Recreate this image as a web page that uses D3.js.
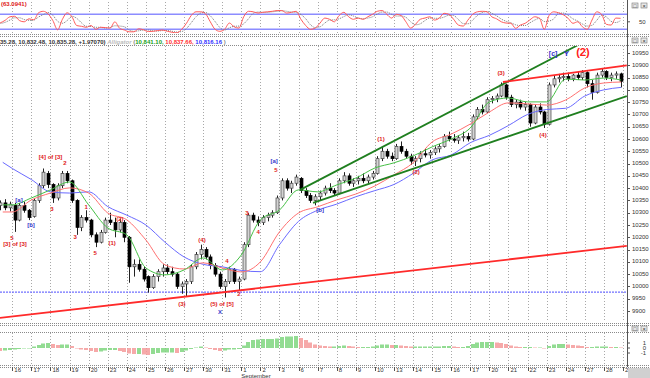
<!DOCTYPE html>
<html>
<head>
<meta charset="utf-8">
<script src="https://cdn.jsdelivr.net/npm/d3@7"></script>
<style>
  body { margin: 0; background: #fff; }
  text { font-family: "Liberation Sans", Arial, sans-serif; }
</style>
</head>
<body>
<svg id="screen"></svg>
<script>
//
// Dow hourly chart: stochastic on top, candles + alligator + wave counts,
// histogram at the bottom
//

// ---------------- data ----------------

let dayLabels = ["16","17","18","19","20","23","24","25","26","27","30","31","1","2","3",
                 "6","7","8","9","10","13","14","15","16","17","20","21","22","23","24",
                 "27","28","29"]

// 4 bars a day, first 4 belong to the day before "16"
let opens = [10340,10330,10340,10320, 10330,10270,10330,10310, 10285,10350,10410,10460,
  10415,10360,10410,10460, 10430,10350,10240,10280, 10270,10210,10180,10220,
  10270,10260,10230,10260, 10200,10080,10090,10070, 10040,9995,10040,10060,
  10075,10060,10050,10000, 10010,10020,10080,10130, 10150,10120,10085,10050,
  10000,10020,10070,10020, 10030,10170,10290,10270, 10260,10280,10290,10300,
  10360,10430,10400,10420, 10440,10390,10370,10350, 10365,10380,10400,10390,
  10380,10430,10450,10420, 10430,10440,10430,10445, 10460,10520,10550,10530,
  10520,10570,10550,10530, 10510,10520,10540,10535, 10545,10560,10570,10610,
  10600,10595,10605,10610, 10600,10690,10720,10710, 10760,10765,10775,10820,
  10770,10740,10750,10730, 10740,10665,10730,10710, 10660,10820,10845,10850,
  10855,10845,10860,10850, 10870,10825,10790,10860, 10875,10850,10860,10865]
let highs = [10360,10350,10355,10345, 10340,10340,10345,10315, 10360,10420,10480,10470,
  10420,10420,10470,10470, 10435,10355,10290,10310, 10275,10220,10230,10280,
  10300,10280,10275,10270, 10205,10110,10110,10080, 10045,10050,10070,10090,
  10090,10080,10055,10020, 10030,10090,10140,10170, 10160,10130,10095,10060,
  10030,10080,10075,10040, 10180,10300,10300,10285, 10290,10300,10310,10370,
  10440,10440,10430,10455, 10445,10400,10380,10375, 10390,10410,10420,10400,
  10440,10465,10460,10440, 10450,10460,10455,10470, 10530,10570,10560,10545,
  10580,10590,10560,10540, 10530,10550,10560,10555, 10570,10580,10620,10630,
  10620,10615,10630,10625, 10700,10730,10740,10770, 10775,10785,10830,10825,
  10780,10760,10760,10750, 10745,10740,10745,10715, 10830,10860,10865,10870,
  10870,10865,10875,10880, 10875,10840,10870,10885, 10880,10870,10875,10870]
let lows = [10320,10310,10310,10305, 10222,10265,10300,10270, 10280,10340,10400,10400,
  10340,10350,10400,10420, 10340,10210,10225,10260, 10200,10160,10175,10215,
  10250,10200,10220,10180, 10015,10040,10060,10020, 9975,9990,10020,10040,
  10050,10040,9990,9970, 9960,10010,10070,10110, 10110,10070,10040,9990,
  9955,10010,10010,9985, 10025,10160,10260,10245, 10250,10265,10280,10295,
  10350,10390,10380,10410, 10380,10360,10340,10330, 10350,10370,10380,10370,
  10375,10420,10410,10405, 10415,10420,10420,10435, 10455,10510,10520,10510,
  10515,10540,10520,10495, 10490,10505,10525,10520, 10535,10545,10565,10590,
  10585,10580,10590,10590, 10595,10680,10700,10705, 10745,10750,10770,10760,
  10730,10725,10720,10715, 10650,10660,10700,10645, 10655,10810,10830,10835,
  10835,10835,10840,10840, 10810,10760,10785,10850, 10840,10835,10845,10810]
let closes = [10330,10340,10320,10335, 10270,10330,10310,10280, 10350,10410,10465,10415,
  10360,10410,10460,10430, 10350,10240,10280,10270, 10210,10180,10220,10270,
  10260,10230,10260,10200, 10080,10090,10070,10030, 9995,10040,10060,10075,
  10060,10050,10000,10010, 10020,10080,10130,10150, 10120,10085,10050,10000,
  10020,10070,10020,10030, 10170,10290,10270,10260, 10280,10290,10300,10360,
  10430,10400,10420,10445, 10390,10370,10350,10365, 10380,10400,10390,10380,
  10430,10450,10420,10430, 10440,10430,10445,10460, 10520,10550,10530,10520,
  10570,10550,10530,10510, 10520,10540,10535,10545, 10560,10570,10610,10600,
  10595,10605,10610,10600, 10690,10720,10710,10760, 10765,10775,10820,10770,
  10740,10750,10730,10740, 10665,10730,10710,10660, 10820,10845,10850,10855,
  10845,10860,10850,10870, 10825,10790,10860,10875, 10850,10860,10865,10835]

// alligator lines, read once a day (day position on the time axis)
let maTimes = [-0.5,0,1,2,3,4,5,6,7,8,9,10,11,12,13,14,15,16,17,18,19,20,21,22,23,24,25,26,27,28,29,30,31,31.9]
let jawLine = [10505,10480,10435,10385,10380,10385,10325,10290,10250,10180,10120,10090,10080,10065,10060,10170,
  10265,10310,10335,10365,10390,10415,10460,10515,10535,10585,10615,10655,10700,10720,10725,10775,10800,10810]
let teethLine = [10303,10303,10352,10380,10401,10380,10299,10271,10189,10088,10071,10096,10075,10059,10100,10222,
  10299,10324,10352,10376,10409,10454,10503,10588,10620,10661,10710,10747,10743,10738,10759,10808,10828,10832]
let lipsLine = [10332,10332,10360,10393,10425,10332,10238,10210,10075,10047,10067,10116,10067,10128,10271,10311,
  10393,10385,10413,10441,10482,10503,10531,10568,10600,10645,10751,10767,10751,10751,10844,10840,10848,10840]

// stochastic, one value a bar
let stochK = [40,46,56,70, 72,55,50,62, 58,86,92,82, 55,18,60,86, 70,35,32,28, 35,20,28,27,
  25,50,24,17, 10,10,22,18, 11,12,15,17, 12,8,6,20, 44,75,90,90, 82,50,20,12, 20,45,30,25,
  70,92,90,85, 88,90,92,95, 95,85,88,92, 60,35,20,25, 45,65,60,50, 75,88,70,60, 65,60,70,80,
  92,95,80,65, 80,75,50,25, 40,60,65,70, 57,65,84,80, 60,37,33,57, 80,90,92,90, 70,62,50,45,
  44,24,37,44, 58,70,64,20, 75,90,86,78, 64,44,50,30, 20,57,90,80, 40,37,65,64]
let stochD = [45,44,48,57, 66,66,59,56, 57,69,79,87, 76,52,44,55, 72,64,46,32, 32,28,28,25,
  27,34,33,30, 17,12,14,17, 17,14,13,15, 15,12,9,11, 23,46,70,85, 87,74,51,27, 17,26,32,33,
  42,62,84,89, 88,88,90,92, 94,92,89,88, 79,62,38,27, 30,45,57,58, 62,71,78,73, 65,62,65,70,
  81,89,89,80, 73,73,68,50, 38,42,55,65, 64,64,69,76, 75,59,43,42, 57,76,87,91, 84,74,61,52,
  46,38,35,35, 46,57,64,51, 53,62,84,85, 76,62,53,41, 33,36,56,76, 70,52,47,55]

// histogram, one value a bar
let histValues = [-0.5,-0.6,-0.5,-0.4, -0.3,-0.2,-0.1,0.0, 0.3,0.6,0.9,1.0, 0.8,0.6,0.7,0.7,
  0.4,0.0,-0.3,-0.4, -0.6,-0.8,-0.7,-0.5, -0.4,-0.4,-0.6,-0.8, -1.1,-1.2,-1.2,-1.3,
  -1.4,-1.2,-1.0,-0.9, -0.9,-0.9,-1.0,-0.8, -0.5,-0.2,0.1,0.3, 0.1,-0.2,-0.4,-0.6,
  -0.5,-0.3,-0.3,-0.2, 0.5,1.2,1.6,1.7, 1.8,1.8,1.8,1.9, 2.2,2.3,2.3,2.4,
  2.0,1.6,1.1,0.7, 0.5,0.4,0.3,0.3, 0.4,0.5,0.4,0.3, 0.2,0.2,0.2,0.3,
  0.5,0.7,0.7,0.6, 0.6,0.5,0.4,0.3, 0.3,0.3,0.3,0.3, 0.3,0.3,0.4,0.4,
  0.3,0.2,0.2,0.4, 0.8,1.1,1.2,1.2, 1.2,1.1,1.0,0.8, 0.5,0.3,0.2,0.2,
  0.2,0.1,0.1,-0.1, 0.4,0.7,0.8,0.8, 0.7,0.6,0.5,0.4, 0.2,0.2,0.3,0.3, 0.3,0.2,0.2,0.1]

let priceTicks = [9900,9950,10000,10050,10100,10150,10200,10250,10300,10350,10400,10450,
                  10500,10550,10600,10650,10700,10750,10800,10850,10900,10950]
let histTicks = [1, 0, -1]
let supportLevel = 9977

// trend lines: [t1, v1, t2, v2, colour]
let trendLines = [
  [15.08, 10393, 29.75, 10987, "#1f7f1f"],
  [15.76, 10340, 32.2, 10775, "#1f7f1f"],
  [25.71, 10832, 32.2, 10900, "#ff2a2a"],
  [-0.65, 9872, 32.2, 10165, "#ff2a2a"]
]

// wave labels: [t, price, text, colour, size]
let waveLabels = [
  [0.35, 10352, "[a]", "#3333cc", 6], [-0.02, 10197, "5", "#e02020", 6],
  [0.14, 10169, "[3] of [3]", "#e02020", 6], [0.98, 10250, "[b]", "#3333cc", 6],
  [2.0, 10525, "[4] of [3]", "#e02020", 6], [2.76, 10502, "2", "#e02020", 6],
  [2.08, 10315, "3", "#e02020", 6], [3.29, 10200, "3", "#e02020", 6],
  [3.87, 10323, "1", "#e02020", 6], [4.34, 10136, "5", "#e02020", 6],
  [5.23, 10177, "(1)", "#e02020", 6], [5.64, 10271, "(2)", "#e02020", 6],
  [8.89, 9925, "(3)", "#e02020", 6], [9.94, 10189, "(4)", "#e02020", 6],
  [10.99, 9925, "(5) of [5]", "#e02020", 6], [10.89, 9896, "X", "#3333cc", 6],
  [11.25, 10100, "4", "#e02020", 6], [11.88, 9966, "2", "#e02020", 6],
  [12.3, 10299, "3", "#e02020", 6], [12.88, 10218, "4", "#e02020", 6],
  [13.72, 10507, "[a]", "#3333cc", 6], [13.82, 10474, "5", "#e02020", 6],
  [16.13, 10311, "[b]", "#3333cc", 6], [19.32, 10600, "(1)", "#e02020", 6],
  [21.16, 10462, "(2)", "#e02020", 6], [25.61, 10865, "(3)", "#e02020", 6],
  [27.81, 10616, "(4)", "#e02020", 6], [28.34, 10946, "[c]", "#3333cc", 7],
  [29.03, 10946, "Y", "#3333cc", 8], [29.9, 10950, "(2)", "#ff2020", 11]
]

// ---------------- frame ----------------

let svg = {width: 650, height: 378}
let plotRight = 627
let stochBox = {top: 2, bottom: 33}
let mainBox = {top: 46, bottom: 322}
let histBox = {top: 333, bottom: 365}

let frame = d3.select("#screen")
  .attr("width", svg.width)
  .attr("height", svg.height)

frame.append("rect").attr("width", svg.width).attr("height", svg.height).attr("fill", "#fff")

let defs = frame.append("defs")
function addClip(id, top, bottom) {
  defs.append("clipPath").attr("id", id)
    .append("rect").attr("x", 0).attr("y", top)
    .attr("width", plotRight).attr("height", bottom - top)
}
addClip("clipStoch", stochBox.top, stochBox.bottom)
addClip("clipMain", mainBox.top, mainBox.bottom)
addClip("clipHist", histBox.top, histBox.bottom)

// scales
let x = d3.scaleLinear().domain([0, 32]).range([12.3, 623])
let y = d3.scaleLinear().domain([9900, 10950]).range([311, 53])
let yStoch = d3.scaleLinear().domain([0, 100]).range([34.3, 9.3])
let yHist = d3.scaleLinear().domain([-1, 1]).range([353, 343])

// bar k -> position on the day axis
let barTime = k => Math.floor(k / 4) - 1 + ((k % 4) + 0.5) / 4
let bars = closes.map((c, k) => ({t: barTime(k), o: opens[k], h: highs[k], l: lows[k], c: c}))

// ---------------- grid + separators ----------------

let grid = frame.append("g")
dayLabels.forEach(function(d, i) {
  [[stochBox.top, stochBox.bottom], [mainBox.top, mainBox.bottom], [histBox.top, histBox.bottom]]
    .forEach(function(r) {
      grid.append("line")
        .attr("x1", Math.round(x(i)) + 0.5).attr("x2", Math.round(x(i)) + 0.5)
        .attr("y1", r[0]).attr("y2", r[1])
        .attr("stroke", "#a8a8a8").attr("stroke-dasharray", "1,2")
    })
})

function sepLine(yy) {
  frame.append("line").attr("x1", 0).attr("x2", svg.width)
    .attr("y1", yy).attr("y2", yy)
    .attr("stroke", "#8a8a8a").attr("stroke-dasharray", "1,1")
}
sepLine(34.5); sepLine(36.5); sepLine(45.5)
sepLine(323.5); sepLine(325.5); sepLine(332.5)
sepLine(365.5); sepLine(367.5)

// right axis line
frame.append("line").attr("x1", plotRight + 0.5).attr("x2", plotRight + 0.5)
  .attr("y1", 0).attr("y2", histBox.bottom + 2)
  .attr("stroke", "#555")

// ---------------- part 1) stochastic ----------------

let stochG = frame.append("g").attr("clip-path", "url(#clipStoch)")
;[80, 20].forEach(function(lv) {
  stochG.append("line").attr("x1", 0).attr("x2", plotRight)
    .attr("y1", yStoch(lv)).attr("y2", yStoch(lv))
    .attr("stroke", "#8c8cff").attr("stroke-width", 1.6)
})
let stochLine = d3.line().x((d, k) => x(barTime(k))).curve(d3.curveMonotoneX)
stochG.append("path").datum(stochD)
  .attr("d", stochLine.y(d => yStoch(d)))
  .attr("fill", "none").attr("stroke", "#7a7a7a").attr("stroke-dasharray", "1,1")
stochG.append("path").datum(stochK)
  .attr("d", stochLine.y(d => yStoch(d)))
  .attr("fill", "none").attr("stroke", "#ff5a5a").attr("stroke-width", 1)

frame.append("text").attr("x", 1).attr("y", 6)
  .attr("font-size", 6).attr("font-weight", "bold").attr("fill", "#e02020")
  .text("(63.0941)")
frame.append("text").attr("x", 639).attr("y", 24)
  .attr("font-size", 6).attr("fill", "#333").text("50")
frame.append("line").attr("x1", plotRight).attr("x2", plotRight + 3)
  .attr("y1", yStoch(50)).attr("y2", yStoch(50)).attr("stroke", "#555")

// ---------------- part 2) main header ----------------

let header = frame.append("text").attr("x", 0).attr("y", 43.5)
  .attr("font-size", 6).attr("font-weight", "bold")
header.append("tspan").attr("fill", "#333").text("35.28, 10,832.48, 10,835.28, +1.97070) ")
header.append("tspan").attr("fill", "#bbb").attr("font-style", "italic").text("Alligator ")
header.append("tspan").attr("fill", "#888").text("(")
header.append("tspan").attr("fill", "#1aa01a").text("10,841.10, ")
header.append("tspan").attr("fill", "#ff3030").text("10,837.66, ")
header.append("tspan").attr("fill", "#3030ff").text("10,816.16")
header.append("tspan").attr("fill", "#888").text(" )")

// little window buttons
;[3, 38, 326].forEach(function(yy) {
  [632, 641].forEach(function(xx, i) {
    frame.append("rect").attr("x", xx).attr("y", yy).attr("width", 6).attr("height", 5)
      .attr("fill", "#e8e8e8").attr("stroke", "#777").attr("stroke-width", 0.6)
    frame.append("text").attr("x", xx + 3).attr("y", yy + 4.5).attr("text-anchor", "middle")
      .attr("font-size", 5.5).attr("fill", "#333").text(i == 0 ? "\u25a1" : "\u00d7")
  })
})

// ---------------- part 3) candles, alligator, trend lines ----------------

let mainG = frame.append("g").attr("clip-path", "url(#clipMain)")

// support level
mainG.append("line").attr("x1", 0).attr("x2", plotRight)
  .attr("y1", y(supportLevel)).attr("y2", y(supportLevel))
  .attr("stroke", "#7070ff").attr("stroke-width", 1.3).attr("stroke-dasharray", "2,1")

let candles = mainG.selectAll(".bar").data(bars).enter().append("g").attr("class", "bar")
candles.append("line")
  .attr("x1", d => Math.round(x(d.t)) + 0.5).attr("x2", d => Math.round(x(d.t)) + 0.5)
  .attr("y1", d => y(d.h)).attr("y2", d => y(d.l))
  .attr("stroke", "#222")
candles.append("rect")
  .attr("x", d => Math.round(x(d.t)) - 1)
  .attr("width", 3)
  .attr("y", d => y(Math.max(d.o, d.c)))
  .attr("height", d => Math.max(1, Math.abs(y(d.o) - y(d.c))))
  .attr("fill", d => d.c >= d.o ? "#d4d4d4" : "#000")
  .attr("stroke", d => d.c >= d.o ? "#444" : "#000")
  .attr("stroke-width", 0.7)

// alligator
let maPath = d3.line().x((d, i) => x(maTimes[i])).y(d => y(d)).curve(d3.curveMonotoneX)
mainG.append("path").datum(jawLine).attr("d", maPath)
  .attr("fill", "none").attr("stroke", "#6a6aff").attr("stroke-width", 1)
mainG.append("path").datum(teethLine).attr("d", maPath)
  .attr("fill", "none").attr("stroke", "#ff7070").attr("stroke-width", 1)
mainG.append("path").datum(lipsLine).attr("d", maPath)
  .attr("fill", "none").attr("stroke", "#45c045").attr("stroke-width", 1)

trendLines.forEach(function(d) {
  mainG.append("line")
    .attr("x1", x(d[0])).attr("y1", y(d[1]))
    .attr("x2", x(d[2])).attr("y2", y(d[3]))
    .attr("stroke", d[4]).attr("stroke-width", 1.8)
})

// wave labels
mainG.selectAll(".wave").data(waveLabels).enter().append("text")
  .attr("class", "wave")
  .attr("x", d => x(d[0])).attr("y", d => y(d[1]))
  .attr("text-anchor", "middle").attr("dominant-baseline", "middle")
  .attr("font-size", d => d[4]).attr("font-weight", "bold")
  .attr("fill", d => d[3])
  .text(d => d[2])

// price axis
priceTicks.forEach(function(v) {
  frame.append("line").attr("x1", plotRight).attr("x2", plotRight + 3)
    .attr("y1", Math.round(y(v)) + 0.5).attr("y2", Math.round(y(v)) + 0.5).attr("stroke", "#555")
  frame.append("text").attr("x", 632).attr("y", y(v))
    .attr("dominant-baseline", "middle")
    .attr("font-size", 6).attr("fill", "#333").text(v)
})

// ---------------- part 4) histogram ----------------

let histG = frame.append("g").attr("clip-path", "url(#clipHist)")
histG.selectAll(".hb").data(histValues).enter().append("rect")
  .attr("class", "hb")
  .attr("x", (d, k) => Math.round(x(barTime(k))) - 2)
  .attr("width", 4)
  .attr("y", d => Math.min(yHist(d), yHist(0)))
  .attr("height", d => Math.max(0.5, Math.abs(yHist(d) - yHist(0))))
  .attr("fill", (d, k) => (k == 0 || d >= histValues[k - 1]) ? "#7fd67f" : "#f49a9a")
  .attr("opacity", 0.85)

histTicks.forEach(function(v) {
  frame.append("line").attr("x1", plotRight).attr("x2", plotRight + 3)
    .attr("y1", yHist(v)).attr("y2", yHist(v)).attr("stroke", "#555")
  frame.append("text").attr("x", 646).attr("y", yHist(v))
    .attr("text-anchor", "end").attr("dominant-baseline", "middle")
    .attr("font-size", 6).attr("fill", "#333").text(v == -1 ? "-1" : v)
})

// ---------------- part 5) time axis ----------------

dayLabels.forEach(function(d, i) {
  frame.append("line").attr("x1", Math.round(x(i)) + 0.5).attr("x2", Math.round(x(i)) + 0.5)
    .attr("y1", 367).attr("y2", 371).attr("stroke", "#555")
  frame.append("text").attr("x", x(i) + 2).attr("y", 371.5)
    .attr("font-size", 6).attr("fill", "#333").text(d)
})
frame.append("text").attr("x", x(12)).attr("y", 377.5)
  .attr("font-size", 6).attr("fill", "#333").text("September")

// corner block
frame.append("rect").attr("x", plotRight + 1).attr("y", 368)
  .attr("width", svg.width - plotRight - 1).attr("height", 10)
  .attr("fill", "#d0d0d0")
</script>
</body>
</html>
